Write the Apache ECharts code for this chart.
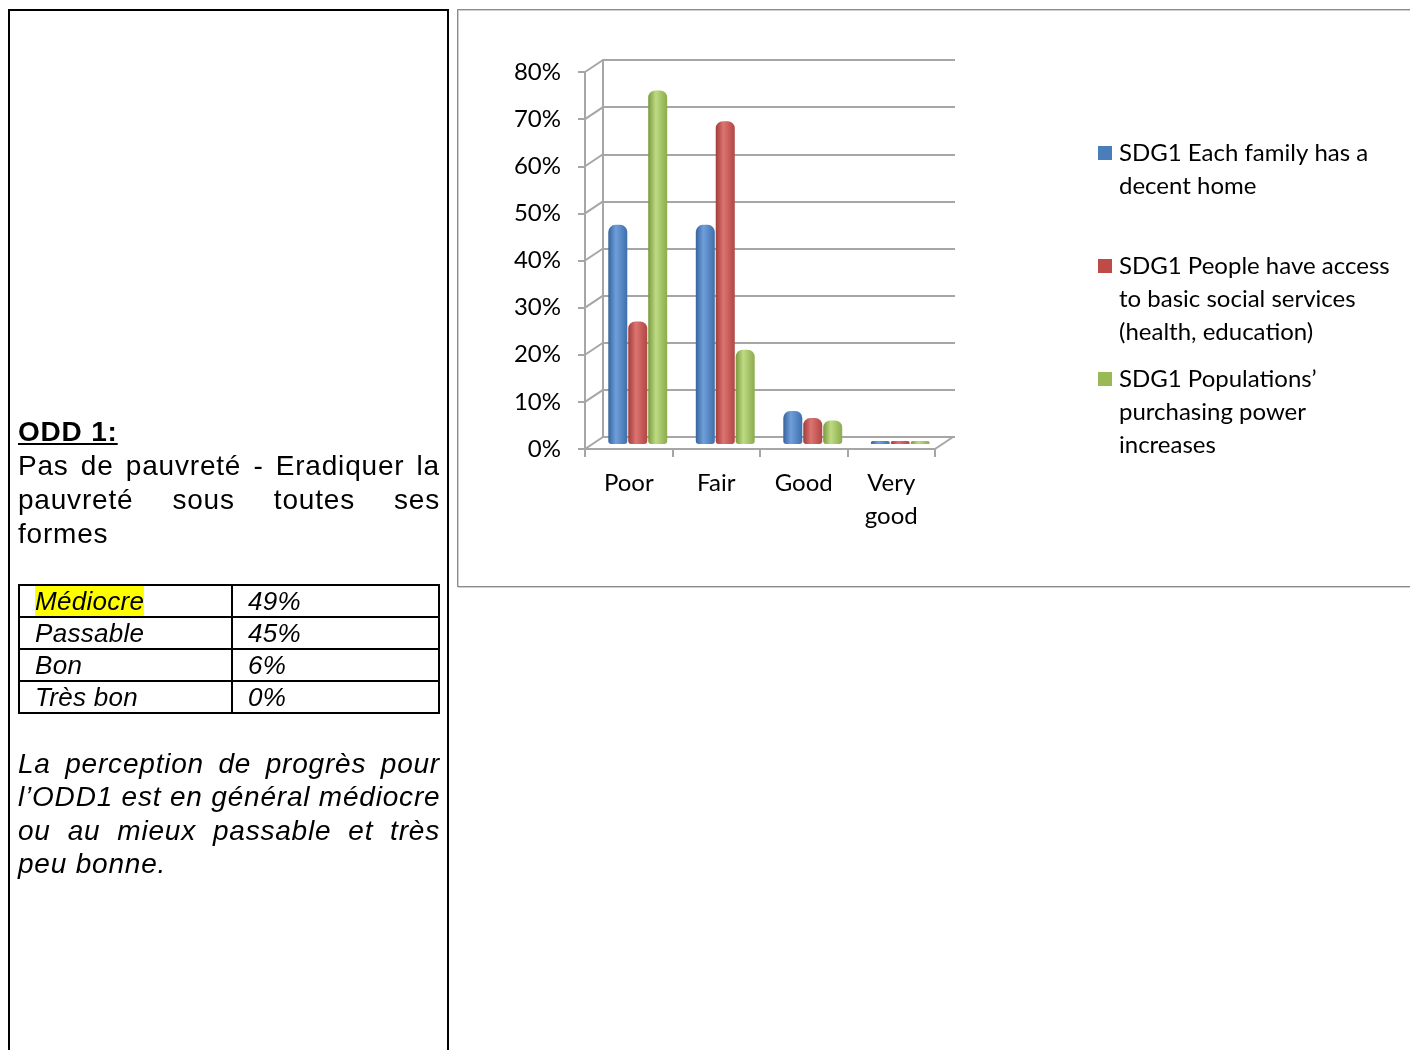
<!DOCTYPE html>
<html>
<head>
<meta charset="utf-8">
<script src="https://cdn.jsdelivr.net/npm/echarts@6/dist/echarts.min.js"></script>
<style>
  html,body{margin:0;padding:0;background:#fff;width:1410px;height:1050px;overflow:hidden;}
  #chart{position:absolute;left:0;top:0;width:1410px;height:1050px;z-index:1;}
  .left{position:absolute;font-family:"Liberation Sans",Arial,sans-serif;color:#000;font-size:28px;letter-spacing:0.8px;z-index:2;}
  .line{position:absolute;left:18px;width:422px;height:34px;line-height:34px;white-space:nowrap;}
  .just{text-align:justify;text-align-last:justify;}
  #leftbox{position:absolute;left:8px;top:9px;width:437px;height:1100px;border:2px solid #000;border-bottom:none;z-index:1;}
  #rightbox{position:absolute;left:457px;top:9px;width:1000px;height:576px;border:1px solid #8c8c8c;box-shadow:inset 1px 1px 0 #cfcfcf, 1px 1px 0 #cfcfcf;z-index:0;}
  table{position:absolute;left:18px;top:584px;border-collapse:collapse;font-style:italic;font-size:26px;letter-spacing:0.3px;}
  td{border:2px solid #000;height:30px;padding:0;line-height:30px;}
  td.a{width:196px;padding-left:15px;}
  td.b{width:190px;padding-left:15px;}
  .hl{background:#ffff00;}
</style>
</head>
<body>
<div id="rightbox"></div>
<div id="leftbox"></div>
<div id="chart"></div>
<div class="left" style="left:0;top:0;width:460px;height:1050px;">
  <div class="line" style="top:415px;font-weight:bold;text-decoration:underline;">ODD 1:</div>
  <div class="line just" style="top:449px;">Pas de pauvreté - Eradiquer la</div>
  <div class="line just" style="top:483px;">pauvreté sous toutes ses</div>
  <div class="line" style="top:517px;">formes</div>
  <table>
    <tr><td class="a"><span class="hl">Médiocre</span></td><td class="b">49%</td></tr>
    <tr><td class="a">Passable</td><td class="b">45%</td></tr>
    <tr><td class="a">Bon</td><td class="b">6%</td></tr>
    <tr><td class="a">Très bon</td><td class="b">0%</td></tr>
  </table>
  <div class="line just" style="top:747px;font-style:italic;">La perception de progrès pour</div>
  <div class="line just" style="top:780px;font-style:italic;">l’ODD1 est en général médiocre</div>
  <div class="line just" style="top:814px;font-style:italic;">ou au mieux passable et très</div>
  <div class="line" style="top:847px;font-style:italic;">peu bonne.</div>
</div>
<script>
// ---- data ----
const categories = ['Poor', 'Fair', 'Good', 'Very\ngood'];
const seriesNames = [
  'SDG1 Each family has a decent home',
  'SDG1 People have access to basic social services (health, education)',
  'SDG1 Populations’ purchasing power increases'
];
const legendLines = [
  ['SDG1 Each family has a', 'decent home'],
  ['SDG1 People have access', 'to basic social services', '(health, education)'],
  ['SDG1 Populations’', 'purchasing power', 'increases']
];
const decentHome = [0.465, 0.465, 0.07, 0];
const socialServices = [0.26, 0.685, 0.055, 0];
const purchasingPower = [0.75, 0.20, 0.05, 0];
const yTicks = [0, 0.1, 0.2, 0.3, 0.4, 0.5, 0.6, 0.7, 0.8];

// ---- styles ----
const FONT = 'Lato';
const GRID_COLOR = '#a6a6a6';
const DX = 18, DY = -12;
const palettes = [
  ['#36639c', '#6f9fdb', '#3f6fab'],
  ['#a13c39', '#dc7471', '#b14643'],
  ['#7b9a3f', '#bddb82', '#8bab4d']
];
const legendColors = ['#4a7ebb', '#be4b48', '#98b954'];
function cyl(p) {
  return new echarts.graphic.LinearGradient(0, 0, 1, 0, [
    {offset: 0, color: p[0]}, {offset: 0.4, color: p[1]}, {offset: 1, color: p[2]}
  ]);
}

const chart = echarts.init(document.getElementById('chart'), null, {renderer: 'canvas'});
const values = [decentHome, socialServices, purchasingPower];

const barSeries = values.map((v, i) => ({
  name: seriesNames[i],
  type: 'bar',
  xAxisIndex: 2, yAxisIndex: 2,
  data: v,
  barWidth: 19,
  barGap: '5%',
  barMinHeight: 3,
  itemStyle: {color: cyl(palettes[i]), borderRadius: [7, 7, 3, 3]},
  z: 5
}));

const LH = 33;
const firstLineY = [153, 266, 379];
const legends = legendLines.map((lines, i) => {
  const below = lines.length - 1;
  const totalLines = below * 2 + 1;
  return {
    data: [{name: seriesNames[i], icon: 'rect', itemStyle: {color: legendColors[i]}}],
    left: 1098,
    top: firstLineY[i] - totalLines * LH / 2,
    padding: 0,
    itemWidth: 14, itemHeight: 14,
    selectedMode: false,
    formatter: () => '\n'.repeat(below) + lines.join('\n'),
    textStyle: {fontFamily: FONT, fontSize: 24, lineHeight: LH, color: '#000', padding: [0, 0, 0, 2]}
  };
});

const option = {
  animation: false,
  legend: legends,
  grid: [
    {left: 603, top: 60, width: 352, height: 377},
    {left: 585, top: 72, width: 350, height: 377},
    {left: 594, top: 67, width: 350, height: 377}
  ],
  xAxis: [
    {gridIndex: 0, type: 'category', data: categories, show: false},
    {gridIndex: 1, type: 'category', data: categories,
      axisLine: {lineStyle: {color: GRID_COLOR, width: 2}},
      axisTick: {show: true, length: 8, lineStyle: {color: GRID_COLOR, width: 2}},
      axisLabel: {fontFamily: FONT, fontSize: 24, lineHeight: 33, color: '#000', margin: 18}},
    {gridIndex: 2, type: 'category', data: categories, show: false}
  ],
  yAxis: [
    {gridIndex: 0, type: 'value', min: 0, max: 0.8, interval: 0.1,
      axisLine: {show: true, lineStyle: {color: GRID_COLOR, width: 2}},
      axisTick: {show: false}, axisLabel: {show: false},
      splitLine: {show: true, lineStyle: {color: GRID_COLOR, width: 2}}},
    {gridIndex: 1, type: 'value', min: 0, max: 0.8, interval: 0.1,
      axisLine: {show: true, lineStyle: {color: GRID_COLOR, width: 2}},
      axisTick: {show: true, length: 7, lineStyle: {color: GRID_COLOR, width: 2}},
      splitLine: {show: false},
      axisLabel: {fontFamily: FONT, fontSize: 24, color: '#000', margin: 24,
        formatter: v => Math.round(v * 100) + '%'}},
    {gridIndex: 2, type: 'value', min: 0, max: 0.8, interval: 0.1, show: false, splitLine: {show: false}}
  ],
  series: [
    {
      type: 'custom',
      xAxisIndex: 1, yAxisIndex: 1,
      data: yTicks.map(v => [0, v]),
      silent: true,
      z: 1,
      renderItem: (params, api) => {
        const cs = params.coordSys;
        const y = api.coord([0, api.value(1)])[1];
        const children = [{
          type: 'line',
          shape: {x1: cs.x, y1: y, x2: cs.x + DX, y2: y + DY},
          style: {stroke: GRID_COLOR, lineWidth: 2}
        }];
        if (api.value(1) === 0) {
          children.push({
            type: 'line',
            shape: {x1: cs.x + cs.width, y1: y, x2: cs.x + cs.width + DX, y2: y + DY},
            style: {stroke: GRID_COLOR, lineWidth: 2}
          });
        }
        return {type: 'group', children};
      }
    },
    ...barSeries
  ]
};
chart.setOption(option);
</script>
</body>
</html>
